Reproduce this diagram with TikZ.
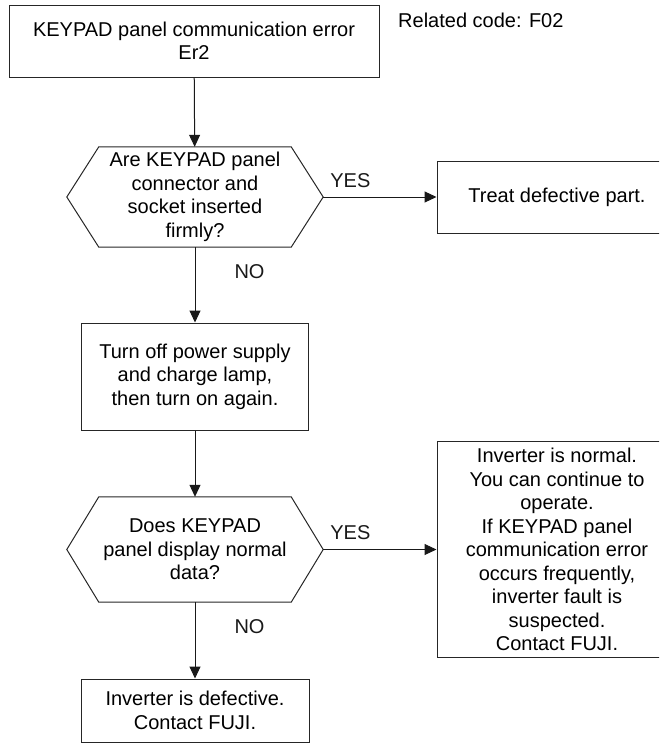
\documentclass[tikz,border=0pt]{standalone}
\usepackage{fontspec}
\setmainfont{Liberation Sans}
\usetikzlibrary{arrows.meta}
\begin{document}
\begin{tikzpicture}[x=1pt,y=-1pt,font=\fontsize{20}{23.5}\selectfont,
    >={Triangle[length=12pt,width=11pt]},
    box/.style={draw=black!85,line width=1pt,align=center,inner sep=0pt},
    hexbox/.style={align=center,inner sep=0pt,minimum width=256pt},
    flow/.style={->,black!90,line width=1pt}]
  \useasboundingbox (0,0) rectangle (659,744);
  \clip (0,0) rectangle (659,744);
  \node[box,minimum width=370pt,minimum height=72pt] (err) at (194,41)
    {KEYPAD panel communication error\\Er2};
  \node[anchor=west,inner sep=0pt] (related) at (398,20) {Related code: F02};
  \node[hexbox,minimum height=100pt] (q1) at (195,197)
    {Are KEYPAD panel\\connector and\\socket inserted\\firmly?};
  \node[box,minimum width=240pt,minimum height=72pt] (treat) at (557,197)
    {Treat defective part.};
  \node[box,minimum width=227pt,minimum height=107pt] (reset) at (195,376.5)
    {Turn off power supply\\and charge lamp,\\then turn on again.};
  \node[hexbox,minimum height=105pt] (q2) at (195,549.5)
    {Does KEYPAD\\panel display normal\\data?};
  \node[box,minimum width=240pt,minimum height=216pt] (normal) at (557,549.5)
    {Inverter is normal.\\You can continue to\\operate.\\If KEYPAD panel\\communication error\\occurs frequently,\\inverter fault is\\suspected.\\Contact FUJI.};
  \node[box,minimum width=228pt,minimum height=63pt] (defect) at (195,710.5)
    {Inverter is defective.\\Contact FUJI.};
  % decision outlines
  \foreach \hex in {q1,q2}{
    \draw[black!85,line width=1pt] (\hex.west) -- ([xshift=32pt]\hex.north west)
      -- ([xshift=-32pt]\hex.north east) -- (\hex.east)
      -- ([xshift=-32pt]\hex.south east) -- ([xshift=32pt]\hex.south west) -- cycle;
  }
  \draw[flow] (err) -- (q1);
  \draw[flow] (q1) -- node[pos=.24,above=9pt,inner sep=0pt] {YES} (treat);
  \draw[flow] (q1) -- node[pos=.33,right=39pt,inner sep=0pt] {NO} (reset);
  \draw[flow] (reset) -- (q2);
  \draw[flow] (q2) -- node[pos=.24,above=9pt,inner sep=0pt] {YES} (normal);
  \draw[flow] (q2) -- node[pos=.32,right=39pt,inner sep=0pt] {NO} (defect);
\end{tikzpicture}
\end{document}
